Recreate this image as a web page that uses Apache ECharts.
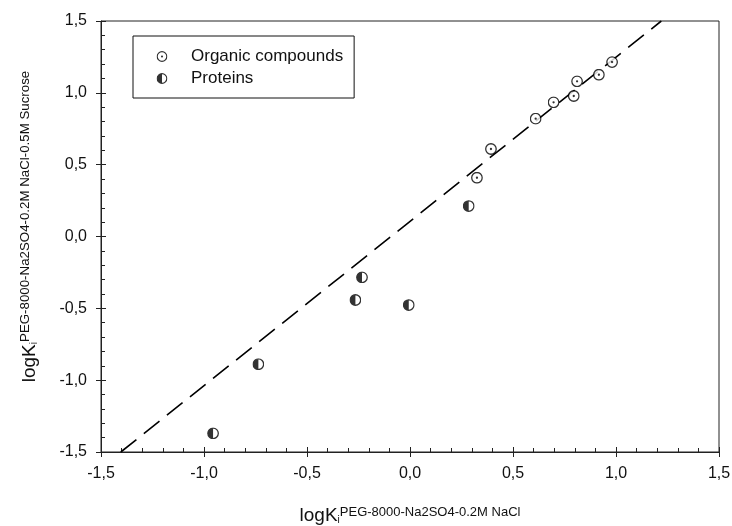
<!DOCTYPE html>
<html>
<head>
<meta charset="utf-8">
<script src="https://cdn.jsdelivr.net/npm/echarts@6/dist/echarts.min.js"></script>
<style>html,body{margin:0;padding:0;background:#fff}#c{width:732px;height:526px}</style>
</head>
<body>
<div id="c"></div>
<script>
// ---- data ----
var xTicks = [-1.5, -1.0, -0.5, 0.0, 0.5, 1.0, 1.5];
var yTicks = [-1.5, -1.0, -0.5, 0.0, 0.5, 1.0, 1.5];
var orgX = [0.325, 0.393, 0.610, 0.697, 0.795, 0.811, 0.917, 0.981];
var orgY = [0.409, 0.609, 0.820, 0.934, 0.978, 1.080, 1.126, 1.214];
var protX = [-0.956, -0.736, -0.265, -0.233, -0.006, 0.285];
var protY = [-1.370, -0.889, -0.442, -0.284, -0.477, 0.212];
var fitX = [-1.404, 1.220];
var fitY = [-1.5, 1.5];
var seriesNames = ['Organic compounds', 'Proteins'];

function zip(a, b) { return a.map(function (v, i) { return [v, b[i]]; }); }
function svgUri(s) { return 'image://data:image/svg+xml;charset=utf-8,' + encodeURIComponent(s); }
var imgOrg = svgUri("<svg xmlns='http://www.w3.org/2000/svg' width='24' height='24' viewBox='0 0 24 24'><circle cx='12' cy='12' r='10.5' fill='white' stroke='black' stroke-width='2.6'/><circle cx='12' cy='12' r='2.3' fill='black'/></svg>");
var imgProt = svgUri("<svg xmlns='http://www.w3.org/2000/svg' width='24' height='24' viewBox='0 0 24 24'><circle cx='12' cy='12' r='10.5' fill='white' stroke='black' stroke-width='2.6'/><path d='M12 1.5 A10.5 10.5 0 0 0 12 22.5 Z' fill='black'/></svg>");

var FONT = "'Liberation Sans', Arial, sans-serif";
var AX = '#222';
function fmt(v) { return v.toFixed(1).replace('.', ','); }

var chart = echarts.init(document.getElementById('c'), null, { renderer: 'canvas' });

function baseAxis(ticks, pos) {
  return {
    type: 'value', position: pos, min: ticks[0], max: ticks[ticks.length - 1], interval: ticks[1] - ticks[0],
    splitLine: { show: false }
  };
}
var xName = '{a|logK}{b|i}{c|PEG-8000-Na2SO4-0.2M NaCl}';
var yName = '{a|logK}{b|i}{c|PEG-8000-Na2SO4-0.2M NaCl-0.5M Sucrose}';
var richX = {
  a: { fontSize: 19, lineHeight: 22, verticalAlign: 'bottom', fontFamily: FONT, color: '#111' },
  b: { fontSize: 10, lineHeight: 10, verticalAlign: 'bottom', fontFamily: FONT, color: '#111' },
  c: { fontSize: 13, lineHeight: 13, verticalAlign: 'top', padding: [3, 0, 0, 0], fontFamily: FONT, color: '#111' }
};
var richY = {
  a: { fontSize: 19, lineHeight: 22, verticalAlign: 'bottom', fontFamily: FONT, color: '#111' },
  b: { fontSize: 10, lineHeight: 10, verticalAlign: 'bottom', fontFamily: FONT, color: '#111' },
  c: { fontSize: 13.3, lineHeight: 13, verticalAlign: 'top', padding: [2, 0, 0, 0], fontFamily: FONT, color: '#111' }
};

function labelAxis(ticks, pos, name, gap, extraName) {
  var o = baseAxis(ticks, pos);
  o.axisLine = { show: true, onZero: false, lineStyle: { color: AX, width: 1 } };
  o.axisTick = { show: true, inside: false, length: 5, lineStyle: { color: AX, width: 1 } };
  o.axisLabel = { show: true, color: '#111', fontSize: 16, fontFamily: FONT, formatter: fmt, margin: 14 };
  o.name = name; o.nameLocation = 'middle'; o.nameGap = gap;
  for (var k in extraName) o[k] = extraName[k];
  return o;
}
function innerTickAxis(ticks, pos) {
  var o = baseAxis(ticks, pos);
  o.axisLine = { show: false, onZero: false };
  o.axisLabel = { show: false };
  o.axisTick = { show: true, inside: true, length: 5, lineStyle: { color: AX, width: 1 } };
  o.minorTick = { show: true, splitNumber: 5, length: 4, lineStyle: { color: AX, width: 1 } };
  return o;
}

var option = {
  backgroundColor: '#fff',
  animation: false,
  grid: { left: 101, right: 13, top: 21, bottom: 74, outerBoundsMode: 'none', containLabel: false,
    show: true, borderColor: AX, borderWidth: 1, backgroundColor: 'transparent' },
  legend: {
    orient: 'vertical', left: 133, top: 36,
    data: [{ name: seriesNames[0], icon: imgOrg }, { name: seriesNames[1], icon: imgProt }],
    itemWidth: 48, itemHeight: 11, itemGap: 5,
    padding: [12, 11, 11, 5],
    borderColor: '#111', borderWidth: 1, backgroundColor: '#fff',
    textStyle: { fontSize: 17, fontFamily: FONT, color: '#111' },
    selectedMode: false
  },
  xAxis: [
    labelAxis(xTicks, 'bottom', xName, 51, { nameTextStyle: { rich: richX, fontFamily: FONT } }),
    innerTickAxis(xTicks, 'bottom')
  ],
  yAxis: [
    labelAxis(yTicks, 'left', yName, 62, { nameRotate: 90, nameTextStyle: { rich: richY, fontFamily: FONT, padding: [0, 0, 0, 20] } }),
    innerTickAxis(yTicks, 'left')
  ],
  series: [
    {
      name: 'fit', type: 'line', data: zip(fitX, fitY), showSymbol: false, symbol: 'none',
      lineStyle: { color: '#000', width: 1.6, type: [20, 9.5] }, z: 1, silent: true
    },
    {
      name: seriesNames[0], type: 'scatter', data: zip(orgX, orgY), symbol: imgOrg, symbolSize: 12, z: 3
    },
    {
      name: seriesNames[1], type: 'scatter', data: zip(protX, protY), symbol: imgProt, symbolSize: 12, z: 3
    }
  ]
};
chart.setOption(option);
</script>
</body>
</html>
